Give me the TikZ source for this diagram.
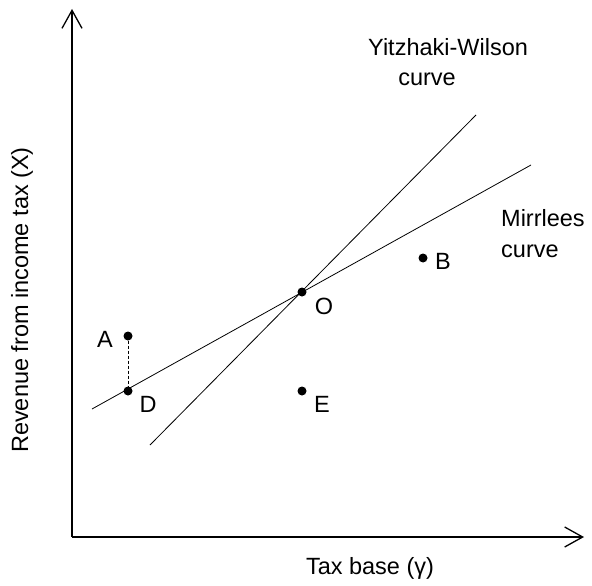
\documentclass[tikz,border=0pt]{standalone}
\usepackage{fontspec}
\setmainfont{Liberation Sans}
\usetikzlibrary{arrows.meta}
\tikzset{
  axis/.style={line width=1.3pt, -{Straight Barb[length=18pt,width=20pt,line width=1.3pt]}},
  curveline/.style={line width=0.8pt},
  dot/.style={circle, fill=black, inner sep=0pt, minimum size=9pt},
  lbl/.style={font=\fontsize{23.5}{28}\selectfont, inner sep=0pt},
}
\begin{document}
\begin{tikzpicture}[x=1pt,y=-1pt]
\useasboundingbox (0,0) rectangle (592,586);
\coordinate (orig) at (72,537);
\coordinate (ytip) at (72,9);
\coordinate (xtip) at (584,537);
\draw[axis] (orig) -- (ytip);
\draw[axis] (orig) -- (xtip);
% curves
\coordinate (m1) at (92,409);
\coordinate (m2) at (531,165);
\coordinate (y1) at (150,445);
\coordinate (y2) at (476,115);
\draw[curveline] (m1) -- (m2);
\draw[curveline] (y1) -- (y2);
% points
\node[dot] (A) at (128,336) {};
\node[dot] (D) at (128,391) {};
\node[dot] (O) at (302,292) {};
\node[dot] (E) at (302,391) {};
\node[dot] (B) at (423,258) {};
\draw[line width=0.7pt, dashed, dash pattern=on 3pt off 2pt] (A) -- (D);
% labels
\node[lbl] (lA) at (105,339) {A};
\node[lbl] (lD) at (148,404) {D};
\node[lbl] (lO) at (324,306) {O};
\node[lbl] (lE) at (322,404) {E};
\node[lbl] (lB) at (443,261) {B};
\node[lbl, anchor=west] (yw) at (368,47) {Yitzhaki-Wilson};
\node[lbl] (ywc) at (427,79) {curve};
\node[lbl, anchor=west] (mi) at (501,218) {Mirrlees};
\node[lbl, anchor=west] (mic) at (501,251) {curve};
\node[lbl, rotate=90] (ylab) at (22,300) {Revenue from income tax (X)};
\node[lbl] (xlab) at (370,568) {Tax base (γ)};
\end{tikzpicture}
\end{document}
